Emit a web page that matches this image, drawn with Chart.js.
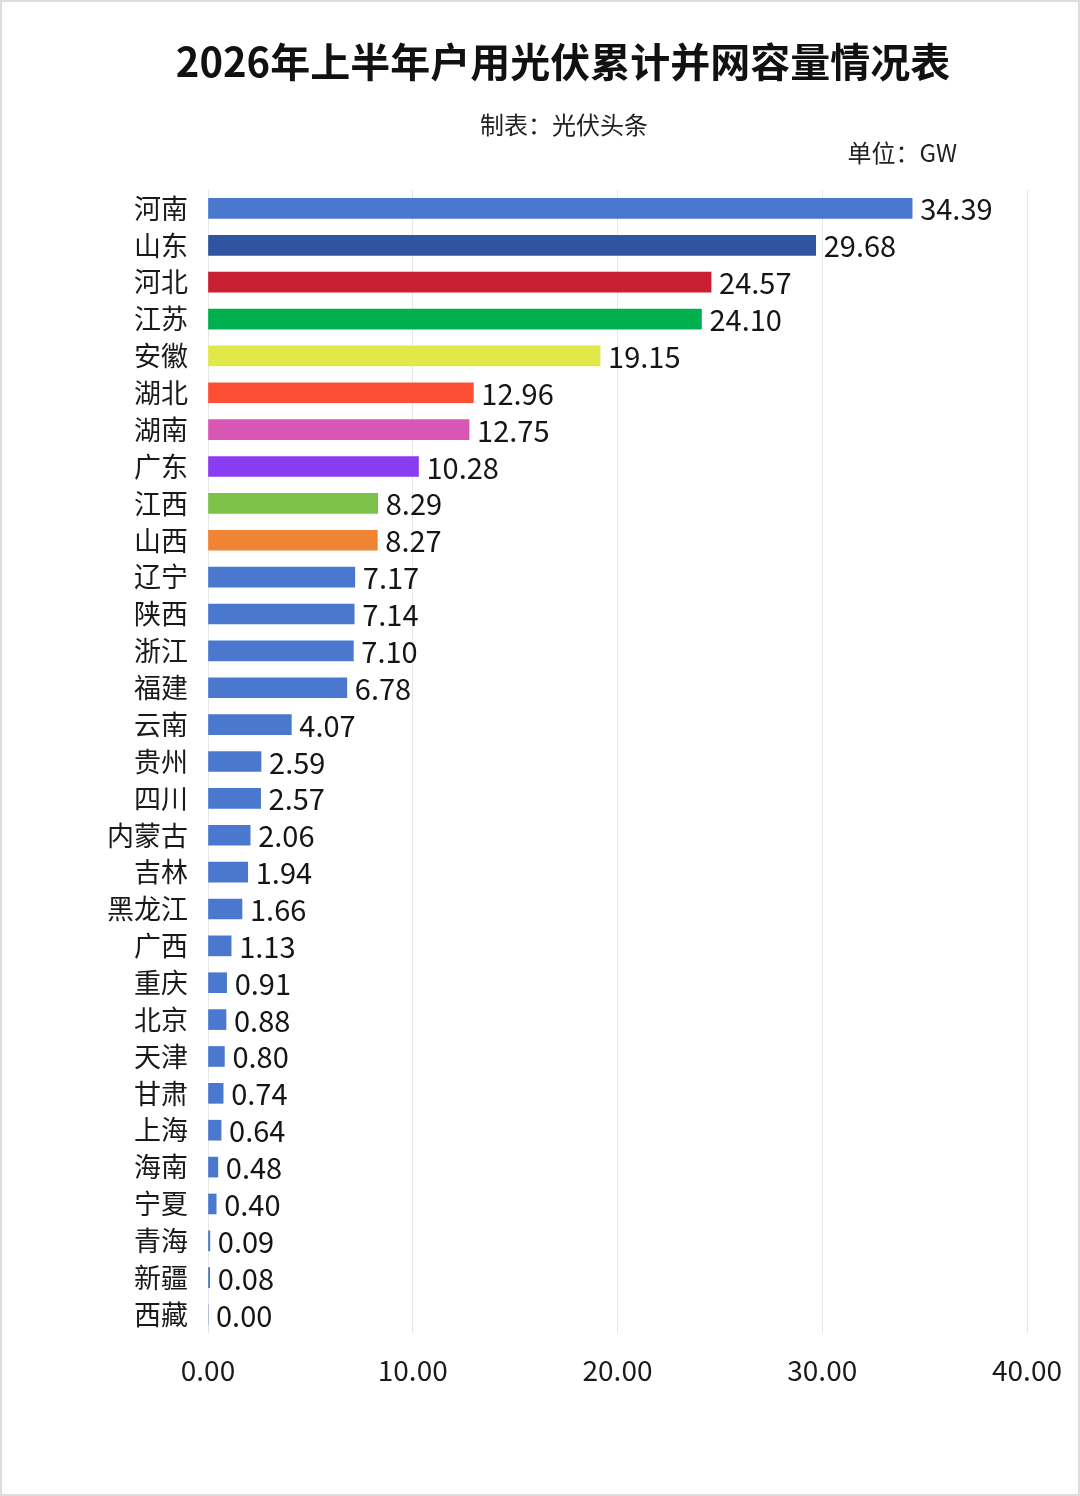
<!DOCTYPE html>
<html>
<head>
<meta charset="utf-8">
<script src="https://cdn.jsdelivr.net/npm/chart.js@4.4.1/dist/chart.umd.min.js"></script>
<style>
  html, body { margin: 0; padding: 0; background: #fff; }
  #wrap { width: 1080px; height: 1496px; position: relative; }
</style>
</head>
<body>
<div id="wrap"><canvas id="grafica" width="1080" height="1496"></canvas></div>
<script>
// datos
const provincias = ['河南', '山东', '河北', '江苏', '安徽', '湖北', '湖南', '广东', '江西', '山西',
    '辽宁', '陕西', '浙江', '福建', '云南', '贵州', '四川', '内蒙古', '吉林', '黑龙江',
    '广西', '重庆', '北京', '天津', '甘肃', '上海', '海南', '宁夏', '青海', '新疆', '西藏'];
const capacidad = [34.39, 29.68, 24.57, 24.10, 19.15, 12.96, 12.75, 10.28, 8.29, 8.27,
    7.17, 7.14, 7.10, 6.78, 4.07, 2.59, 2.57, 2.06, 1.94, 1.66,
    1.13, 0.91, 0.88, 0.80, 0.74, 0.64, 0.48, 0.40, 0.09, 0.08, 0.00];
const coloresTop = ['#4a78cf', '#2f55a1', '#c81f33', '#00b04f', '#e0e84a',
    '#fe4f35', '#d857b4', '#8a3cf2', '#7bc14a', '#ee8434'];
const colorResto = '#4a78cf';
const ticksX = [0, 10, 20, 30, 40];

const titulo = '2026年上半年户用光伏累计并网容量情况表';
const subtitulo = '制表：光伏头条';
const unidad = '单位：GW';

const FUENTE = '"Noto Sans CJK SC", "Noto Sans", sans-serif';
const colores = capacidad.map((v, i) => i < coloresTop.length ? coloresTop[i] : colorResto);

// Textos de cabecera, marco y etiquetas de valor
const pluginTextos = {
    id: 'textos',
    afterDraw(chart) {
        const ctx = chart.ctx;
        ctx.save();
        ctx.fillStyle = '#111';
        ctx.textBaseline = 'middle';
        ctx.textAlign = 'center';
        ctx.font = `bold 40px ${FUENTE}`;
        ctx.fillText(titulo, 563, 62);
        ctx.font = `24px ${FUENTE}`;
        ctx.fillStyle = '#222';
        ctx.fillText(subtitulo, 564, 125);
        ctx.textAlign = 'right';
        ctx.fillText(unidad, 957, 153);

        const meta = chart.getDatasetMeta(0);
        ctx.textAlign = 'left';
        ctx.fillStyle = '#151515';
        ctx.font = `29px ${FUENTE}`;
        meta.data.forEach((bar, i) => {
            ctx.fillText(capacidad[i].toFixed(2), bar.x + 8, bar.y + 1);
        });

        ctx.strokeStyle = '#dcdcdc';
        ctx.lineWidth = 2;
        ctx.strokeRect(1, 1, chart.width - 2, chart.height - 2);
        ctx.restore();
    }
};

const ctx = document.getElementById('grafica').getContext('2d');
new Chart(ctx, {
    type: 'bar',
    data: {
        labels: provincias,
        datasets: [{
            data: capacidad,
            backgroundColor: colores,
            barThickness: 20,
            borderWidth: 0
        }]
    },
    options: {
        indexAxis: 'y',
        responsive: false,
        animation: false,
        devicePixelRatio: 1,
        layout: {
            padding: { top: 190, right: 53, bottom: 0, left: 0 }
        },
        plugins: {
            legend: { display: false },
            tooltip: { enabled: false }
        },
        scales: {
            x: {
                min: 0,
                max: 40,
                afterBuildTicks(scale) {
                    scale.ticks = ticksX.map(v => ({ value: v }));
                },
                afterFit(scale) {
                    scale.height = 163;
                    scale.paddingLeft = 0;
                    scale.paddingRight = 0;
                },
                border: { display: false },
                grid: { color: '#e6e6e6', lineWidth: 1, drawTicks: false },
                ticks: {
                    padding: 21,
                    color: '#1a1a1a',
                    font: { family: FUENTE, size: 28 },
                    callback: v => v.toFixed(2)
                }
            },
            y: {
                afterFit(scale) {
                    scale.width = 208;
                },
                border: { display: false },
                grid: { display: false, drawTicks: false },
                ticks: {
                    padding: 20,
                    color: '#1a1a1a',
                    font: { family: FUENTE, size: 27 },
                    autoSkip: false
                }
            }
        }
    },
    plugins: [pluginTextos]
});
</script>
</body>
</html>
